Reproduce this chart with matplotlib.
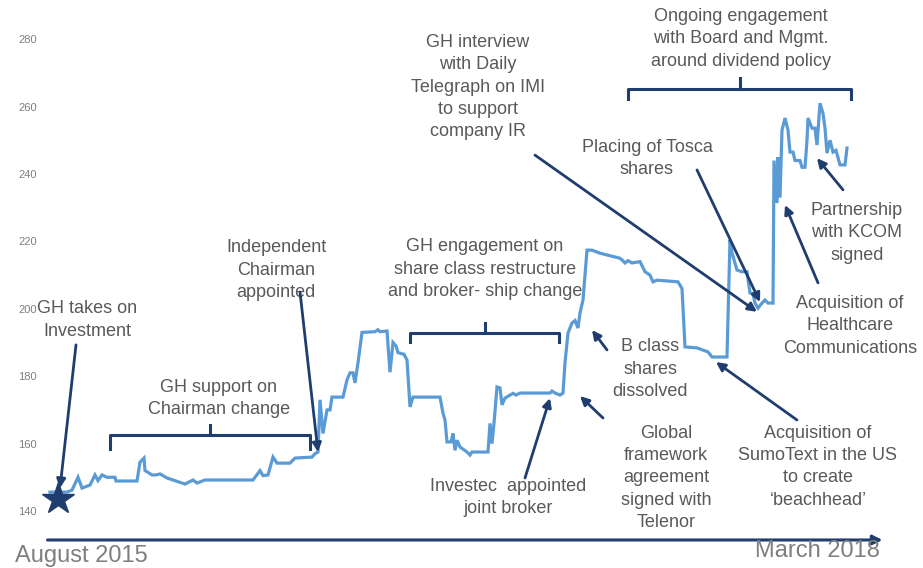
import matplotlib
matplotlib.use("Agg")
import matplotlib.pyplot as plt

plt.rcParams['font.family'] = ['Liberation Sans', 'DejaVu Sans']

# months since August 2015 and share price (pence)
months = [0.00, 0.68, 0.88, 1.12, 1.28, 1.60, 1.80, 1.92, 2.08, 2.28, 2.60, 2.64, 3.48, 3.60, 3.76, 3.80,
          4.08, 4.24, 4.40, 4.68, 4.92, 5.40, 5.72, 5.88, 6.20, 8.12, 8.40, 8.52, 8.72, 8.92, 9.08, 9.60,
          9.80, 10.48, 10.60, 10.72, 10.80, 10.92, 11.08, 11.20, 11.28, 11.72, 11.88, 12.00, 12.12, 12.20,
          12.32, 12.48, 13.00, 13.12, 13.20, 13.48, 13.60, 13.72, 13.84, 13.92, 14.16, 14.28, 14.40, 14.52,
          15.60, 15.72, 15.80, 15.88, 16.04, 16.12, 16.20, 16.28, 16.40, 16.68, 16.80, 16.88, 17.52, 17.60,
          17.68, 17.76, 17.88, 18.00, 18.08, 18.20, 18.40, 18.52, 18.64, 18.80, 20.00, 20.08, 20.20, 20.40,
          20.52, 20.60, 20.72, 20.88, 21.00, 21.12, 21.20, 21.32, 21.48, 21.68, 22.00, 22.80, 22.88, 23.00,
          23.12, 23.28, 23.60, 23.80, 24.00, 24.12, 24.28, 25.12, 25.28, 25.40, 25.88, 26.32, 26.48, 27.08,
          27.20, 27.28, 27.48, 27.68, 27.88, 28.00, 28.12, 28.20, 28.32, 28.48, 28.60, 28.72, 28.92, 28.96,
          29.08, 29.12, 29.20, 29.28, 29.40, 29.52, 29.60, 29.72, 29.80, 30.00, 30.08, 30.20, 30.28, 30.32,
          30.48, 30.60, 30.68, 30.80, 30.92, 31.00, 31.08, 31.20, 31.32, 31.44, 31.60, 31.80, 31.88]
price = [145.6, 145.6, 146.2, 150.0, 146.8, 147.7, 150.7, 149.0, 150.7, 150.0, 150.0, 148.9, 148.9, 154.5, 155.7, 152.0,
         150.7, 150.7, 151.0, 149.8, 149.2, 148.0, 149.2, 148.3, 149.2, 149.2, 152.0, 150.5, 150.7, 156.0, 154.2, 154.2,
         155.7, 156.0, 157.0, 157.5, 173.0, 163.0, 170.0, 170.0, 173.8, 173.8, 178.9, 181.0, 181.0, 178.0,
         184.0, 193.0, 193.2, 193.8, 193.2, 193.4, 181.2, 190.0, 189.0, 187.0, 186.5, 184.8, 170.9, 173.8,
         173.8, 169.0, 167.0, 160.5, 160.5, 163.0, 158.0, 161.0, 159.0, 157.5, 156.6, 157.5, 157.5, 166.0,
         160.0, 166.0, 176.8, 176.5, 171.5, 173.5, 174.4, 174.9, 174.4, 175.0, 175.0, 175.6, 175.0, 174.4,
         175.0, 184.0, 192.8, 195.8, 196.5, 194.3, 198.8, 202.6, 217.4, 217.4, 216.5, 215.0, 214.5, 213.6,
         214.3, 213.6, 214.0, 211.0, 210.0, 208.0, 208.5, 208.0, 206.0, 188.7, 188.4, 187.2, 185.7, 185.7,
         220.4, 216.6, 211.5, 211.0, 211.0, 204.7, 204.5, 201.7, 200.2, 201.7, 202.6, 201.7, 201.7, 244.0,
         231.4, 245.0, 233.0, 253.0, 256.6, 253.0, 246.5, 246.5, 244.0, 244.0, 242.0, 242.0, 250.0, 256.6,
         253.6, 253.6, 248.6, 261.0, 258.0, 253.6, 246.2, 250.0, 246.5, 247.0, 242.7, 242.7, 247.7]

yticks = [140, 160, 180, 200, 220, 240, 260, 280]

# (label, text position, arrow tail, arrow head)
events = [
    ("GH takes on\nInvestment", (1.48, 196.7), (1.04, 189.3), (0.40, 146.8)),
    ("Independent\nChairman\nappointed", (9.04, 211.5), (10.0, 205.0), (10.72, 157.5)),
    ("GH interview\nwith Daily\nTelegraph on IMI\nto support\ncompany IR", (17.12, 265.8), (19.4, 245.6), (28.28, 199.1)),
    ("Placing of Tosca\nshares", (23.88, 244.5), (25.88, 241.2), (28.4, 202.0)),
    ("Acquisition of\nHealthcare\nCommunications", (32.0, 194.9), (30.72, 207.7), (29.4, 230.8)),
    ("Partnership\nwith KCOM\nsigned", (32.28, 222.5), (31.72, 235.3), (30.68, 244.7)),
    ("B class\nshares\ndissolved", (24.0, 182.1), (22.28, 187.8), (21.68, 193.7)),
    ("Global\nframework\nagreement\nsigned with\nTelenor", (24.64, 149.8), (22.12, 167.6), (21.2, 174.1)),
    ("Investec  appointed\njoint broker", (18.32, 143.9), (19.0, 149.8), (20.0, 173.5)),
    ("Acquisition of\nSumoText in the US\nto create\n\u2018beachhead\u2019", (30.72, 153.1), (29.88, 167.0), (26.64, 184.2)),
]

# (label, text position, left x, right x, bar y, leg depth, tick height)
periods = [
    ("GH support on\nChairman change", (6.76, 173.5), 2.4, 10.4, 162.6, 4.2, 2.9),
    ("GH engagement on\nshare class restructure\nand broker- ship change", (17.4, 211.8), 14.4, 20.36, 192.8, 2.7, 3.0),
    ("Ongoing engagement\nwith Board and Mgmt.\naround dividend policy", (27.64, 280.1), 23.12, 32.04, 265.2, 2.9, 3.3),
]

navy = '#1f3d6e'
blue = '#5b9bd5'
grey = '#595959'

fig = plt.figure(figsize=(9.23, 5.68), dpi=100)
ax = fig.add_axes([45 / 923, 57 / 568, 855 / 923, 471.8 / 568])
ax.set_xlim(-0.2, 34.0)
ax.set_ylim(140, 280)

ax.plot(months, price, color=blue, lw=2.3, solid_joinstyle='miter', clip_on=False, zorder=3)
ax.plot([months[0] + 0.32], [143.6], marker='*', ms=24, color=navy, clip_on=False, zorder=4)

for label, txt, tail, head in events:
    ax.text(txt[0], txt[1], label, ha='center', va='center', fontsize=13, color=grey,
            linespacing=1.4, clip_on=False)
    ax.annotate("", xy=head, xytext=tail,
                arrowprops=dict(arrowstyle='-|>', lw=2.0, color=navy, mutation_scale=13,
                                shrinkA=0, shrinkB=0), annotation_clip=False)

for label, txt, x0, x1, y, leg, tick in periods:
    ax.text(txt[0], txt[1], label, ha='center', va='center', fontsize=13, color=grey,
            linespacing=1.4, clip_on=False)
    xm = (x0 + x1) / 2
    ax.plot([x0, x0, x1, x1], [y - leg, y, y, y - leg], color=navy, lw=2.2,
            solid_joinstyle='round', clip_on=False)
    ax.plot([xm, xm], [y, y + tick], color=navy, lw=2.2, clip_on=False)

# timeline arrow
ax.annotate("", xy=(33.3, 131.4), xytext=(-0.1, 131.4),
            arrowprops=dict(arrowstyle='-|>', lw=2.2, color=navy, mutation_scale=14,
                            shrinkA=0, shrinkB=0), annotation_clip=False)
ax.text(-1.4, 126.6, "August 2015", ha='left', va='center', fontsize=17, color='#7f7f7f', clip_on=False)
ax.text(33.2, 128.1, "March 2018", ha='right', va='center', fontsize=17, color='#7f7f7f', clip_on=False)

ax.set_yticks(yticks)
ax.set_yticklabels([str(t) for t in yticks])
ax.set_xticks([])
ax.tick_params(axis='y', length=0, pad=6, labelsize=8, labelcolor='#7f7f7f')
for s in ax.spines.values():
    s.set_visible(False)

fig.savefig("out.png", dpi=100)
